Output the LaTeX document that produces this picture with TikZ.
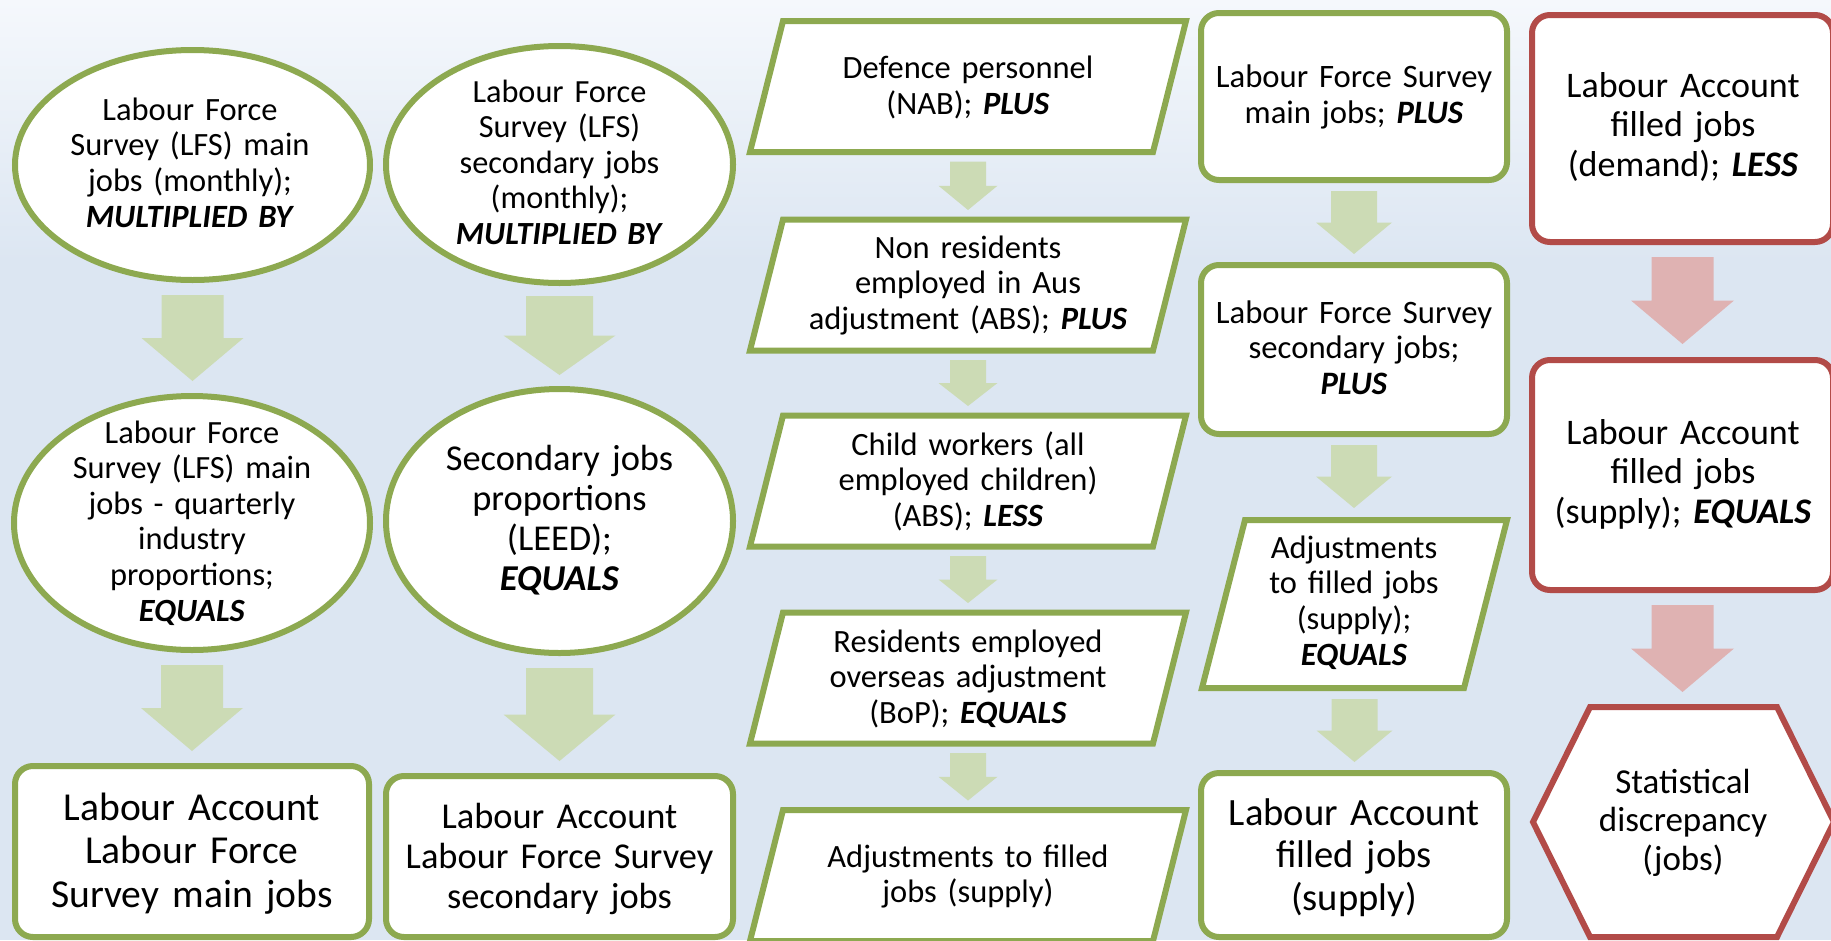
\documentclass[tikz,border=0pt]{standalone}
\usepackage{fontspec}
\setmainfont{Carlito}
\usetikzlibrary{calc,shapes.geometric}
\definecolor{gline}{RGB}{141,169,80}
\definecolor{garrow}{RGB}{204,219,181}
\definecolor{rline}{RGB}{178,75,72}
\definecolor{rarrow}{RGB}{223,178,178}
\definecolor{bgtop}{RGB}{245,248,252}
\definecolor{bgblue}{RGB}{220,230,242}
\newcommand{\kw}[1]{\textbf{\textit{#1}}}
% block arrow between two named nodes
\newcommand{\blockarr}[7]{%
  \fill[#1] let \p1=(#2.south), \p2=(#3.north),
    \n1={\y1-#4pt}, \n2={\y2+#5pt}, \n3={(\y1-#4pt+\y2+#5pt)/2} in
    (\x1-#6pt,\n1+0pt) -- (\x1+#6pt,\n1+0pt) -- (\x1+#6pt,\n3+0pt) -- (\x1+#7pt,\n3+0pt)
    -- (\x1,\n2+0pt) -- (\x1-#7pt,\n3+0pt) -- (\x1-#6pt,\n3+0pt) -- cycle;}
\begin{document}
\begin{tikzpicture}[x=1pt,y=-1pt,
  gshape/.style={draw=gline, line width=6pt, fill=white, outer sep=0pt, inner sep=0pt},
  rshape/.style={draw=rline, line width=6pt, fill=white, outer sep=0pt, inner sep=0pt},
  holder/.style={rectangle, inner sep=0pt, outer sep=0pt},
  oval/.style={ellipse, gshape},
  gbox/.style={rectangle, rounded corners=18pt, gshape},
  rbox/.style={rectangle, rounded corners=18pt, rshape},
  txt/.style 2 args={anchor=base, inner sep=0pt, text width=440pt, align=center, font=\fontsize{#1}{#2}\selectfont},
  tx/.style={txt={32.5}{35.8}}
]
\useasboundingbox (0,0) rectangle (1831,940);
\clip (0,0) rectangle (1831,940);
% background
\shade[top color=bgtop, bottom color=bgblue] (0,0) rectangle (1831,262);
\fill[bgblue] (0,261) rectangle (1831,940);

% ---- left columns: ellipses and boxes
\node[oval, minimum width=355, minimum height=230] (e1) at (192.5,165) {};
\node[oval, minimum width=347, minimum height=237] (e2) at (559.5,164.5) {};
\node[oval, minimum width=356, minimum height=254] (e3) at (192,523) {};
\node[oval, minimum width=347, minimum height=264] (e4) at (559.5,521) {};
\node[gbox, minimum width=354, minimum height=171] (b1) at (192,851.5) {};
\node[gbox, minimum width=347, minimum height=161] (b2) at (559.5,856.5) {};

% ---- middle column: parallelograms
\foreach \n/\cy in {p1/86.5, p2/285, p3/481, p4/678, p5/875.5}{
  \node[holder, minimum width=436, minimum height=131] (\n) at (968,\cy) {};
  \draw[draw=gline, line width=6pt, fill=white]
    ($(\n.north west)+(33,0)$) -- (\n.north east) -- ($(\n.south east)-(33,0)$)
    -- (\n.south west) -- cycle;
}

% ---- right green column
\node[gbox, minimum width=306, minimum height=167] (r1) at (1354,96.5) {};
\node[gbox, minimum width=306, minimum height=169] (r2) at (1354,349.5) {};
\node[holder, minimum width=305, minimum height=168] (pr) at (1354.5,604) {};
\draw[draw=gline, line width=6pt, fill=white]
  ($(pr.north west)+(43,0)$) -- (pr.north east) -- ($(pr.south east)-(43,0)$)
  -- (pr.south west) -- cycle;
\node[gbox, minimum width=306, minimum height=164] (r3) at (1354,855) {};

% ---- red column
\node[rbox, minimum width=301, minimum height=227] (d1) at (1682.5,128.5) {};
\node[rbox, minimum width=301, minimum height=230] (d2) at (1682.5,475) {};
\node[holder, minimum width=301, minimum height=230] (hx) at (1683.5,822) {};
\draw[draw=rline, line width=6pt, fill=white]
  ($(hx.north west)+(57,0)$) -- ($(hx.north east)-(57,0)$) -- (hx.east)
  -- ($(hx.south east)-(57,0)$) -- ($(hx.south west)+(57,0)$) -- (hx.west) -- cycle;

% ---- block arrows
\blockarr{garrow}{e1}{e3}{15}{15}{31}{51}
\blockarr{garrow}{e3}{b1}{15}{15}{31}{51}
\blockarr{garrow}{e2}{e4}{13}{14}{33.5}{56}
\blockarr{garrow}{e4}{b2}{15}{15}{33.5}{56}
\blockarr{garrow}{p1}{p2}{9.5}{9.5}{18}{29.5}
\blockarr{garrow}{p2}{p3}{9.5}{9.5}{18}{29.5}
\blockarr{garrow}{p3}{p4}{9.5}{9.5}{18}{29.5}
\blockarr{garrow}{p4}{p5}{9.5}{9.5}{18}{29.5}
\blockarr{garrow}{r1}{r2}{11}{11}{23}{38}
\blockarr{garrow}{r2}{pr}{11}{12}{23}{38}
\blockarr{garrow}{pr}{r3}{11}{11}{23}{38}
\blockarr{rarrow}{d1}{d2}{15}{16}{31}{51.5}
\blockarr{rarrow}{d2}{hx}{15}{15}{31}{51.5}

% ---- texts
\node[tx] (e1t) at (190,120) {Labour Force\\Survey (LFS) main\\jobs (monthly);\\\kw{MULTIPLIED BY}};
\node[txt={32.3}{35.5}] (e2t) at (559.5,102) {Labour Force\\Survey (LFS)\\secondary jobs\\(monthly);\\\kw{MULTIPLIED BY}};
\node[txt={32.4}{35.6}] (e3t) at (192,443) {Labour Force\\Survey (LFS) main\\jobs - quarterly\\industry\\proportions;\\\kw{EQUALS}};
\node[txt={36.4}{40}] (e4t) at (559.5,470) {Secondary jobs\\proportions\\(LEED);\\\kw{EQUALS}};
\node[txt={39.6}{43.5}] (b1t) at (192,820) {Labour Account\\Labour Force\\Survey main jobs};
\node[txt={36.4}{40}] (b2t) at (559.5,828) {Labour Account\\Labour Force Survey\\secondary jobs};

\node[txt={32.5}{36.5}] (p1t) at (968,78) {Defence personnel\\(NAB); \kw{PLUS}};
\node[txt={32.5}{35.5}] (p2t) at (968,258) {Non residents\\employed in Aus\\adjustment (ABS); \kw{PLUS}};
\node[txt={32.5}{35.5}] (p3t) at (968,455) {Child workers (all\\employed children)\\(ABS); \kw{LESS}};
\node[txt={32.5}{35.5}] (p4t) at (968,652) {Residents employed\\overseas adjustment\\(BoP); \kw{EQUALS}};
\node[txt={32.5}{35.5}] (p5t) at (968,867) {Adjustments to filled\\jobs (supply)};

\node[txt={32.7}{36}] (r1t) at (1354,87) {Labour Force Survey\\main jobs; \kw{PLUS}};
\node[txt={32.7}{35.5}] (r2t) at (1354,323) {Labour Force Survey\\secondary jobs;\\\kw{PLUS}};
\node[txt={32.5}{35.7}] (prt) at (1354,558) {Adjustments\\to filled jobs\\(supply);\\\kw{EQUALS}};
\node[txt={38.6}{42.5}] (r3t) at (1354,825) {Labour Account\\filled jobs\\(supply)};

\node[txt={36}{39.5}] (d1t) at (1683,97) {Labour Account\\filled jobs\\(demand); \kw{LESS}};
\node[txt={36}{39.5}] (d2t) at (1683,444) {Labour Account\\filled jobs\\(supply); \kw{EQUALS}};
\node[txt={35}{38.5}] (hxt) at (1683,793) {Statistical\\discrepancy\\(jobs)};
\end{tikzpicture}
\end{document}
